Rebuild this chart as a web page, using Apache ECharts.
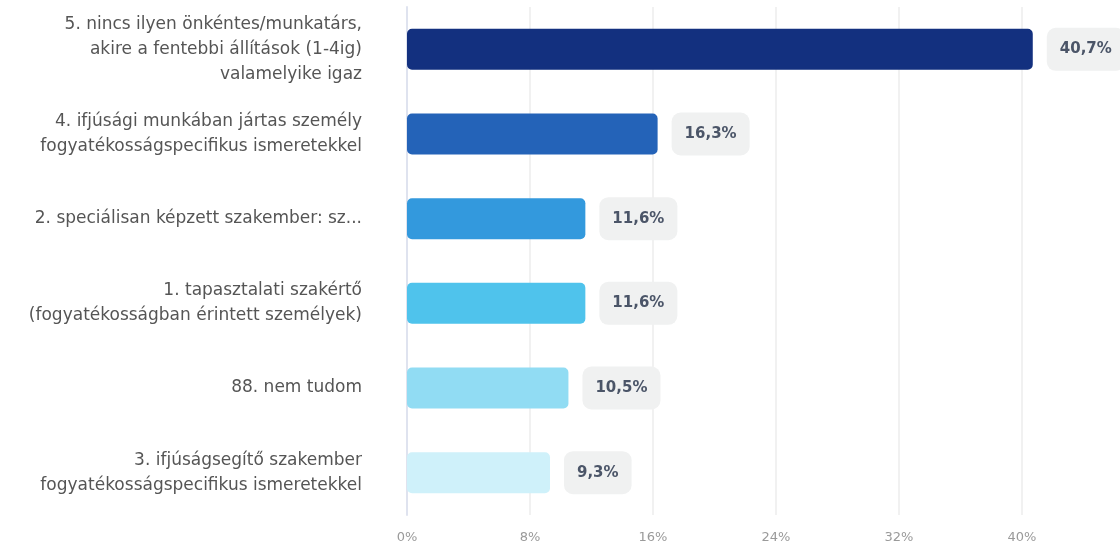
<!DOCTYPE html>
<html>
<head>
<meta charset="utf-8">
<script src="https://cdn.jsdelivr.net/npm/echarts@6/dist/echarts.min.js"></script>
<style>
  html, body { margin: 0; padding: 0; background: #fff; }
  #main { width: 1120px; height: 545px; }
</style>
</head>
<body>
<div id="main"></div>
<script>
// kategóriák (felülről lefelé)
var categories = [
  '5. nincs ilyen önkéntes/munkatárs,\nakire a fentebbi állítások (1-4ig)\nvalamelyike igaz',
  '4. ifjúsági munkában jártas személy\nfogyatékosságspecifikus ismeretekkel',
  '2. speciálisan képzett szakember: sz...',
  '1. tapasztalati szakértő\n(fogyatékosságban érintett személyek)',
  '88. nem tudom',
  '3. ifjúságsegítő szakember\nfogyatékosságspecifikus ismeretekkel'
];
var values = [40.7, 16.3, 11.6, 11.6, 10.5, 9.3];
var barColors = ['#13307f', '#2463b8', '#3399dd', '#4fc3ec', '#91dcf3', '#cff1fa'];
var tickStep = 8;

var chart = echarts.init(document.getElementById('main'));

chart.setOption({
  animation: false,
  grid: {
    left: 407,
    top: 7,
    width: 738,
    height: 508,
    containLabel: false,
    outerBoundsMode: 'none'
  },
  xAxis: {
    type: 'value',
    min: 0,
    max: 48,
    interval: tickStep,
    axisLine: { show: false },
    axisTick: { show: false },
    splitLine: { lineStyle: { color: '#ececec', width: 1.5 } },
    axisLabel: {
      formatter: '{value}%',
      color: '#9a9a9a',
      fontSize: 13,
      fontFamily: 'DejaVu Sans',
      margin: 16
    }
  },
  yAxis: {
    type: 'category',
    inverse: true,
    data: categories,
    axisLine: { show: true, lineStyle: { color: '#dfe3ef', width: 2 } },
    axisTick: { show: false },
    axisLabel: {
      color: '#555555',
      fontSize: 17,
      lineHeight: 25,
      fontFamily: 'DejaVu Sans',
      align: 'right',
      margin: 45
    }
  },
  series: [{
    type: 'bar',
    barWidth: 41,
    data: values.map(function(v, i){
      return { value: v, itemStyle: { color: barColors[i] } };
    }),
    itemStyle: { borderRadius: 5 },
    label: {
      show: true,
      position: 'right',
      distance: 14,
      formatter: function(p){
        return p.value.toFixed(1).replace('.', ',') + '%';
      },
      color: '#4b5568',
      fontWeight: 'bold',
      fontSize: 15,
      fontFamily: 'DejaVu Sans',
      backgroundColor: '#f0f1f1',
      borderRadius: 9,
      padding: [14, 13]
    }
  }]
});
</script>
</body>
</html>
